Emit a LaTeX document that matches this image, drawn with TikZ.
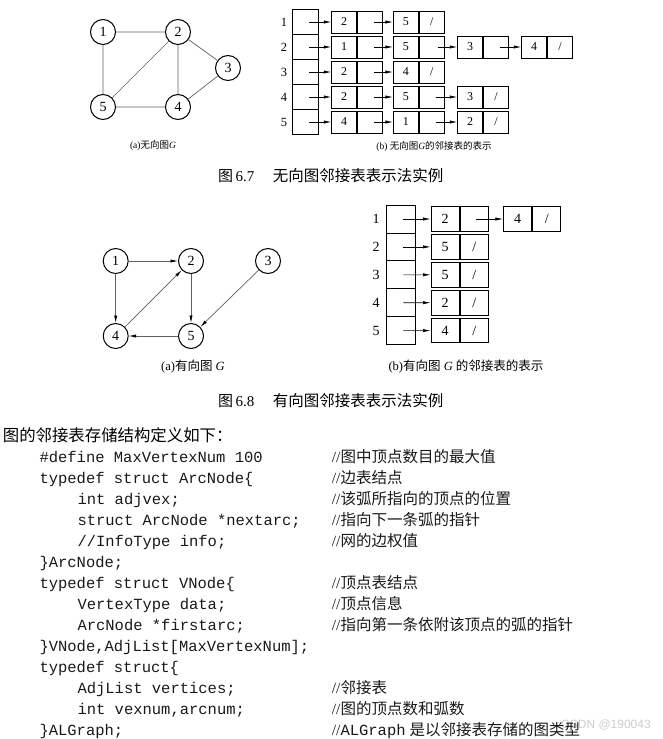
\documentclass[tikz,border=0pt]{standalone}
\usepackage{fontspec}
\setmainfont{Liberation Serif}
\setmonofont{Liberation Mono}
\newfontfamily\cjk{Noto Sans CJK SC}
\newfontfamily\wmfont{Liberation Sans}
\usetikzlibrary{arrows.meta}
\newcommand\fsz[1]{\fontsize{#1}{#1}\selectfont}
\newcommand\mkarc[6]{%
  \node[#1] (#2d) at (#3,#4) {#5};
  \node[#1,anchor=west] (#2p) at (#2d.east) {#6};}
\begin{document}
\begin{tikzpicture}[x=1pt,y=-1pt,
  gvert/.style={circle,draw,line width=1pt,minimum size=25pt,inner sep=0pt,font=\fsz{14}},
  uedge/.style={draw=gray!75!black,line width=0.7pt},
  dedge/.style={draw=gray!75!black,line width=0.7pt,-{Latex[length=7.5pt,width=3.2pt,color=black]}},
  ptrarrow/.style={line width=0.6pt,-{Latex[length=7.5pt,width=3.2pt]}},
  tv/.style={draw,line width=0.9pt,minimum width=25.6pt,minimum height=25pt,inner sep=0pt},
  tc/.style={draw,line width=0.9pt,minimum width=25pt,minimum height=22pt,inner sep=0pt,font=\fsz{12}},
  mv/.style={draw,line width=0.9pt,minimum width=28.3pt,minimum height=27.9pt,inner sep=0pt},
  mc/.style={draw,line width=0.9pt,minimum width=28.3pt,minimum height=24.5pt,inner sep=0pt,font=\fsz{14}},
  lbl/.style={inner sep=0pt},
  codeln/.style={anchor=base west,inner sep=0pt,font=\ttfamily\fsz{15.5},text=black!90},
  cmtln/.style={anchor=base west,inner sep=0pt,font=\fsz{15.5},text=black!90},
]
\useasboundingbox (0,0) rectangle (662,739);

% ---------- Fig 6.7 (a)
\node[gvert] (a1) at (103,32) {1};
\node[gvert] (a2) at (178,32) {2};
\node[gvert] (a3) at (228,68) {3};
\node[gvert] (a4) at (178,107) {4};
\node[gvert] (a5) at (103,107) {5};
\draw[uedge] (a1)--(a2) (a1)--(a5) (a2)--(a5) (a2)--(a4) (a2)--(a3) (a3)--(a4) (a5)--(a4);
\node[lbl,font=\fsz{9.5}] (capa) at (153,146) {(a){\cjk 无向图}\textit{G}};

% ---------- Fig 6.7 (b)
\foreach \i in {1,...,5} {
  \node[tv] (tv\i) at (305.5,{22+25*(\i-1)}) {};
  \node[lbl,font=\fsz{12.5}] (tl\i) at (284,{22+25*(\i-1)}) {\i};
}
\mkarc{tc}{t11}{344.2}{22}{2}{}
\mkarc{tc}{t12}{405.8}{22}{5}{/}
\mkarc{tc}{t21}{344.2}{47}{1}{}
\mkarc{tc}{t22}{405.8}{47}{5}{}
\mkarc{tc}{t23}{470.2}{47}{3}{}
\mkarc{tc}{t24}{534.2}{47}{4}{/}
\mkarc{tc}{t31}{344.2}{72}{2}{}
\mkarc{tc}{t32}{405.8}{72}{4}{/}
\mkarc{tc}{t41}{344.2}{97}{2}{}
\mkarc{tc}{t42}{405.8}{97}{5}{}
\mkarc{tc}{t43}{470.2}{97}{3}{/}
\mkarc{tc}{t51}{344.2}{122}{4}{}
\mkarc{tc}{t52}{405.8}{122}{1}{}
\mkarc{tc}{t53}{470.2}{122}{2}{/}
\foreach \i in {1,...,5} {
  \draw[ptrarrow] ([xshift=3.5pt]tv\i.center) -- (t\i1d.west);
}
\draw[ptrarrow] ([xshift=4pt]t11p.center) -- (t12d.west);
\draw[ptrarrow] ([xshift=4pt]t21p.center) -- (t22d.west);
\draw[ptrarrow] ([xshift=6pt]t22p.center) -- (t23d.west);
\draw[ptrarrow] ([xshift=4pt]t23p.center) -- (t24d.west);
\draw[ptrarrow] ([xshift=4pt]t31p.center) -- (t32d.west);
\draw[ptrarrow] ([xshift=4pt]t41p.center) -- (t42d.west);
\draw[ptrarrow] ([xshift=4pt]t42p.center) -- (t43d.west);
\draw[ptrarrow] ([xshift=4pt]t51p.center) -- (t52d.west);
\draw[ptrarrow] ([xshift=4pt]t52p.center) -- (t53d.west);
\node[lbl,font=\fsz{9.5}] (capb) at (434,146) {(b) {\cjk 无向图}\textit{G}{\cjk 的邻接表的表示}};

\node[lbl,anchor=west,font=\fsz{15}] (f7a) at (218,175.7) {{\cjk 图}\,6.7};
\node[lbl,anchor=west,font=\cjk\fsz{15.5}] (f7b) at (272.7,175.7) {无向图邻接表表示法实例};

% ---------- Fig 6.8 (a)
\node[gvert] (b1) at (115.7,261) {1};
\node[gvert] (b2) at (191,261) {2};
\node[gvert] (b3) at (268,261) {3};
\node[gvert] (b4) at (115.7,336) {4};
\node[gvert] (b5) at (191,336) {5};
\draw[dedge] (b1) -- (b2);
\draw[dedge] (b1) -- (b4);
\draw[dedge] (b4) -- (b2);
\draw[dedge] (b2) -- (b5);
\draw[dedge] (b3) -- (b5);
\draw[dedge] (b5) -- (b4);
\node[lbl,font=\fsz{12.5}] (capc) at (193,367) {(a){\cjk 有向图} \textit{G}};

% ---------- Fig 6.8 (b)
\foreach \i in {1,...,5} {
  \node[mv] (mv\i) at (400.8,{219+27.9*(\i-1)}) {};
  \node[lbl,font=\fsz{14}] (ml\i) at (376,{219+27.9*(\i-1)}) {\i};
}
\mkarc{mc}{m11}{445.2}{219}{2}{}
\mkarc{mc}{m12}{517.5}{219}{4}{/}
\mkarc{mc}{m21}{445.2}{246.9}{5}{/}
\mkarc{mc}{m31}{445.2}{274.8}{5}{/}
\mkarc{mc}{m41}{445.2}{302.7}{2}{/}
\mkarc{mc}{m51}{445.2}{330.6}{4}{/}
\foreach \i in {1,...,5} {
  \draw[ptrarrow] ([xshift=2.5pt]mv\i.center) -- (m\i1d.west);
}
\draw[ptrarrow] ([xshift=1.5pt]m11p.center) -- (m12d.west);
\node[lbl,font=\fsz{12.5}] (capd) at (466,367) {(b){\cjk 有向图} \textit{G} {\cjk 的邻接表的表示}};

\node[lbl,anchor=west,font=\fsz{15}] (f8a) at (218,400.7) {{\cjk 图}\,6.8};
\node[lbl,anchor=west,font=\cjk\fsz{15.5}] (f8b) at (272.7,400.7) {有向图邻接表表示法实例};

% ---------- code
\node[lbl,anchor=base west,font=\cjk\fsz{16.4}] (hdr) at (2.7,441) {图的邻接表存储结构定义如下：};
\node[lbl,font=\wmfont\fsz{12},text=gray!40] (wm) at (606,725) {CSDN @190043};

\node[codeln] (c1) at (39.3,462.0) {\#define MaxVertexNum 100};
\node[codeln] (c2) at (39.3,483.05) {typedef struct ArcNode\{};
\node[codeln] (c3) at (77.3,504.1) {int adjvex;};
\node[codeln] (c4) at (77.3,525.15) {struct ArcNode *nextarc;};
\node[codeln] (c5) at (77.3,546.2) {//InfoType info;};
\node[codeln] (c6) at (39.3,567.25) {\}ArcNode;};
\node[codeln] (c7) at (39.3,588.3) {typedef struct VNode\{};
\node[codeln] (c8) at (77.3,609.35) {VertexType data;};
\node[codeln] (c9) at (77.3,630.4) {ArcNode *firstarc;};
\node[codeln] (c10) at (39.3,651.45) {\}VNode,AdjList[MaxVertexNum];};
\node[codeln] (c11) at (39.3,672.5) {typedef struct\{};
\node[codeln] (c12) at (77.3,693.55) {AdjList vertices;};
\node[codeln] (c13) at (77.3,714.6) {int vexnum,arcnum;};
\node[codeln] (c14) at (39.3,735.65) {\}ALGraph;};

\node[cmtln] (k1) at (331.7,462.0) {//{\cjk 图中顶点数目的最大值}};
\node[cmtln] (k2) at (331.7,483.05) {//{\cjk 边表结点}};
\node[cmtln] (k3) at (331.7,504.1) {//{\cjk 该弧所指向的顶点的位置}};
\node[cmtln] (k4) at (331.7,525.15) {//{\cjk 指向下一条弧的指针}};
\node[cmtln] (k5) at (331.7,546.2) {//{\cjk 网的边权值}};
\node[cmtln] (k7) at (331.7,588.3) {//{\cjk 顶点表结点}};
\node[cmtln] (k8) at (331.7,609.35) {//{\cjk 顶点信息}};
\node[cmtln] (k9) at (331.7,630.4) {//{\cjk 指向第一条依附该顶点的弧的指针}};
\node[cmtln] (k12) at (331.7,693.55) {//{\cjk 邻接表}};
\node[cmtln] (k13) at (331.7,714.6) {//{\cjk 图的顶点数和弧数}};
\node[cmtln] (k14) at (331.7,735.65) {//{\ttfamily ALGraph} {\cjk 是以邻接表存储的图类型}};
\end{tikzpicture}
\end{document}
